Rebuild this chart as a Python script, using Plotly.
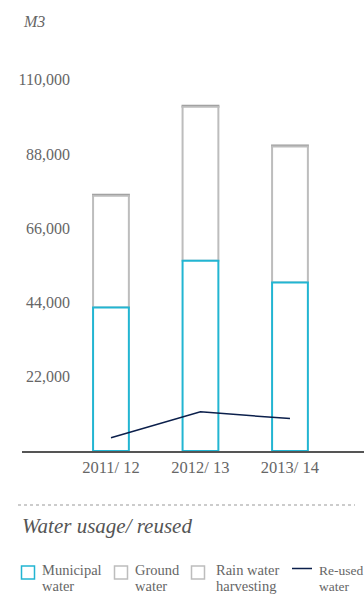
import plotly.graph_objects as go

categories = ["2011/ 12", "2012/ 13", "2013/ 14"]
municipal = [42500, 56400, 49900]
ground = [33100, 45600, 40300]
rain = [300, 300, 300]
reused = [3900, 11600, 9600]
y_ticks = [22000, 44000, 66000, 88000, 110000]

W, H = 364, 612
ML, MR, MT, MB = 22, 0, 46, 161
PW, PH = W - ML - MR, H - MT - MB

def px(x):
    return (x - ML) / PW

def py(y):
    return (H - MB - y) / PH

serif = "Liberation Serif, Times New Roman, serif"
cyan = "#22b5d2"
gray_g = "#bdbdbd"
gray_r = "#9a9a9a"
navy = "#0b1f4b"

base_ground = municipal
base_rain = [m + g for m, g in zip(municipal, ground)]

fig = go.Figure()
fig.add_trace(go.Bar(x=categories, y=rain, base=base_rain, width=0.4,
                     marker=dict(color="white", line=dict(color=gray_r, width=2))))
fig.add_trace(go.Bar(x=categories, y=ground, base=base_ground, width=0.4,
                     marker=dict(color="white", line=dict(color=gray_g, width=2))))
fig.add_trace(go.Bar(x=categories, y=municipal, width=0.4,
                     marker=dict(color="white", line=dict(color=cyan, width=2))))
fig.add_trace(go.Scatter(x=categories, y=reused, mode="lines",
                         line=dict(color=navy, width=1.5)))

fig.update_layout(
    width=W, height=H,
    margin=dict(l=ML, r=MR, t=MT, b=MB),
    barmode="overlay",
    showlegend=False,
    hovermode=False,
    plot_bgcolor="white",
    paper_bgcolor="white",
    font=dict(family=serif, color="#666"),
    xaxis=dict(range=[-0.994, 2.827], showgrid=False, zeroline=False,
               showline=True, linecolor="#555", linewidth=2, ticks="",
               tickfont=dict(family=serif, size=16.5, color="#666")),
    yaxis=dict(range=[0, 120000], showgrid=False, zeroline=False,
               anchor="free", position=px(70), showline=False, ticks="",
               tickvals=y_ticks, tickformat=",d",
               tickfont=dict(family=serif, size=16, color="#666")),
)

annotations = [
    dict(text="<i>M3</i>", x=px(21), y=py(22), xanchor="left", yanchor="middle",
         font=dict(size=16, color="#666", family=serif)),
    dict(text="<i>Water usage/ reused</i>", x=px(20), y=py(526), xanchor="left",
         yanchor="middle", font=dict(size=21, color="#555", family=serif)),
]
leg = [
    (40, "Municipal", "water", 14.5),
    (133, "Ground", "water", 14.5),
    (214, "Rain water", "harvesting", 14.5),
    (317, "Re-used", "water", 13.5),
]
for x, l1, l2, fs in leg:
    annotations.append(dict(text=l1, x=px(x), y=py(570), xanchor="left", yanchor="middle",
                            font=dict(size=fs, color="#666", family=serif)))
    annotations.append(dict(text=l2, x=px(x), y=py(586), xanchor="left", yanchor="middle",
                            font=dict(size=fs, color="#666", family=serif)))
for a in annotations:
    a.update(xref="paper", yref="paper", showarrow=False)
fig.update_layout(annotations=annotations)

shapes = [
    dict(type="line", x0=px(18), x1=px(355), y0=py(505), y1=py(505),
         line=dict(color="#999", width=1, dash="dot")),
    dict(type="rect", x0=px(21.5), x1=px(34.5), y0=py(566), y1=py(579),
         line=dict(color=cyan, width=1.5), fillcolor="white"),
    dict(type="rect", x0=px(114.5), x1=px(127.5), y0=py(566), y1=py(579),
         line=dict(color=gray_g, width=1.5), fillcolor="white"),
    dict(type="rect", x0=px(191.5), x1=px(204.5), y0=py(566), y1=py(579),
         line=dict(color=gray_g, width=1.5), fillcolor="white"),
    dict(type="line", x0=px(292), x1=px(312), y0=py(568.5), y1=py(568.5),
         line=dict(color=navy, width=1.5)),
]
for s in shapes:
    s.update(xref="paper", yref="paper")
fig.update_layout(shapes=shapes)

fig.write_html("out.html", config={"displayModeBar": False},
               post_script="document.body.style.margin='0';")
